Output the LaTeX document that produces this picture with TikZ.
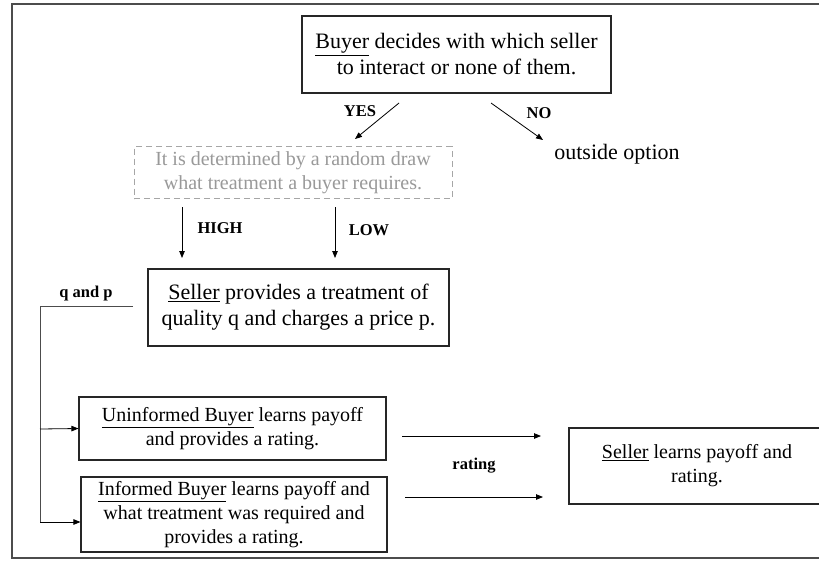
\documentclass[tikz,border=0pt]{standalone}
\usepackage{fontspec}
\setmainfont{Liberation Serif}
\usetikzlibrary{arrows.meta}
\begin{document}
\begin{tikzpicture}[x=1pt,y=-1pt,
  box/.style={draw=black!85,line width=1.1pt,align=center,inner sep=0pt,
    font=\fontsize{22}{26}\selectfont},
  sbox/.style={box,font=\fontsize{20}{24}\selectfont},
  dbox/.style={draw=black!35,dashed,dash pattern=on 6pt off 4pt,line width=1pt,align=center,inner sep=0pt,
    text=black!40,font=\fontsize{20}{24}\selectfont},
  lbl/.style={font=\fontsize{16.5}{19}\selectfont\bfseries},
  arr/.style={line width=0.8pt,-{Triangle[length=7pt,width=5.5pt]}},
]
\useasboundingbox (0,0) rectangle (819,563);
\clip (0,0) rectangle (819,563);
\fill[white] (0,0) rectangle (819,563);
\draw[line width=1.5pt,black!70] (830,4) -- (12,4) -- (12,558) -- (830,558);

\node[box,minimum width=309pt,minimum height=77pt] (buyer) at (456.5,54.5)
  {\underline{Buyer} decides with which seller\\to interact or none of them.};
\node[dbox,minimum width=318pt,minimum height=52pt] (draw) at (293,172.5)
  {It is determined by a random draw\\what treatment a buyer requires.};
\node[font=\fontsize{22}{26}\selectfont] (outside) at (617,154) {outside option};
\node[box,minimum width=301pt,minimum height=77pt] (seller) at (298.5,307.5)
  {\underline{Seller} provides a treatment of\\quality q and charges a price p.};
\node[sbox,minimum width=307pt,minimum height=63pt] (unin) at (232.5,428.5)
  {\underline{Uninformed Buyer} learns payoff\\and provides a rating.};
\node[sbox,minimum width=306pt,minimum height=75pt] (inf) at (234,514.5)
  {\underline{Informed Buyer} learns payoff and\\what treatment was required and\\provides a rating.};
\node[sbox,minimum width=256pt,minimum height=76pt] (slearn) at (697,466)
  {\underline{Seller} learns payoff and\\rating.};

% YES / NO
\coordinate (yesA) at (399,103); \coordinate (yesB) at (355,139);
\coordinate (noA) at (491,103);  \coordinate (noB) at (543,140);
\draw[arr] (yesA) -- (yesB);
\draw[arr] (noA) -- (noB);
\node[lbl] (yes) at (360,111) {YES};
\node[lbl] (no) at (539,113) {NO};

% HIGH / LOW
\coordinate (hiA) at (182,207); \coordinate (hiB) at (182,258);
\coordinate (loA) at (335,207); \coordinate (loB) at (335,258);
\draw[arr] (hiA) -- (hiB);
\draw[arr] (loA) -- (loB);
\node[lbl] (high) at (220,228) {HIGH};
\node[lbl] (low) at (369,230) {LOW};

% q and p
\node[lbl] (qp) at (86,294) {q and p};
\coordinate (qpA) at (133,306);
\coordinate (qpC) at (40,306);
\coordinate (qpD) at (40,522);
\coordinate (qpU) at (40,429);
\draw[line width=0.8pt,black!70] (qpA) -- (qpC) -- (qpD);
\draw[arr] (qpU) -- (unin.west);
\draw[arr] (qpD) -- (inf.west |- qpD);

% rating
\coordinate (r1A) at (402,436); \coordinate (r1B) at (541,436);
\coordinate (r2A) at (405,497); \coordinate (r2B) at (543,497);
\draw[arr] (r1A) -- (r1B);
\draw[arr] (r2A) -- (r2B);
\node[lbl] (rating) at (474,466) {rating};
\end{tikzpicture}
\end{document}
